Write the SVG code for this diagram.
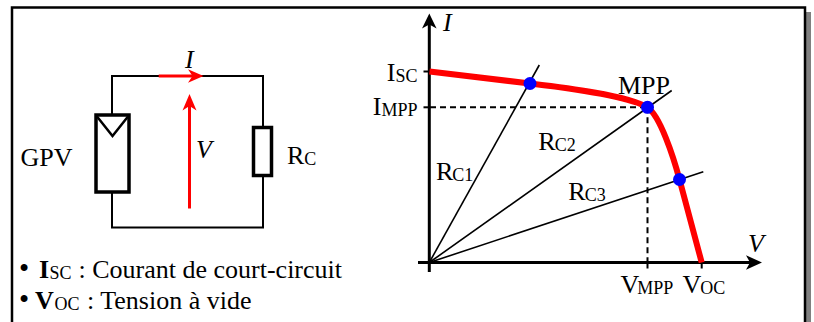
<svg xmlns="http://www.w3.org/2000/svg" width="814" height="322" viewBox="0 0 814 322">
<style>
.t{font-family:"Liberation Serif","Times New Roman",serif;font-size:26px;fill:#000}
.s{font-size:18px}
.bul{font-size:29px}
.it{font-style:italic}
.b{font-weight:bold}
.wire{fill:none;stroke:#000;stroke-width:2}
.thick{fill:#fff;stroke:#000;stroke-width:3.5}
.axis{fill:none;stroke:#000;stroke-width:3}
.load{fill:none;stroke:#000;stroke-width:1.6}
.dash{fill:none;stroke:#000;stroke-width:2;stroke-dasharray:6,4}
.red{fill:none;stroke:#f00;stroke-width:3}
.dot{fill:#00f}
</style>
<rect x="806" y="12" width="5" height="312" fill="#808080"/>
<rect x="12" y="7.5" width="793" height="320" fill="#fff" stroke="#000" stroke-width="2.5"/>

<g id="circuit-wires">
<polyline class="wire" points="112,115 112,76 263,76 263,127"/>
<polyline class="wire" points="112,192 112,227.5 263,227.5 263,176"/>
</g>
<g id="gpv">
<rect class="thick" x="96" y="115" width="33" height="77"/>
<polyline points="97,116.5 112.5,136 128,116.5" fill="none" stroke="#000" stroke-width="2.5"/>
<text class="t" x="20.5" y="166">GPV</text>
</g>
<g id="rc">
<rect class="thick" x="253.5" y="127.5" width="18" height="48"/>
<text class="t" x="287" y="163.5">R<tspan class="s" dy="1">C</tspan></text>
</g>
<g id="current-arrow">
<line class="red" x1="158.7" y1="76" x2="194" y2="76"/>
<path d="M188,69.3 L203.5,76 L188,82.7 L192.5,76 Z" fill="#f00"/>
<text class="t it" x="185" y="68">I</text>
</g>
<g id="voltage-arrow">
<line class="red" x1="189.5" y1="208.5" x2="189.5" y2="104"/>
<path d="M182.5,110.5 L189.5,94 L196.5,110.5 L189.5,106 Z" fill="#f00"/>
<text class="t it" x="196" y="158">V</text>
</g>

<g id="legend">
<text class="t" y="278"><tspan class="bul" x="19">•</tspan><tspan class="b" x="39">I</tspan><tspan class="s" x="49.5" dy="1">SC</tspan><tspan x="78.5" dy="-1">: Courant de court-circuit</tspan></text>
<text class="t" y="309"><tspan class="bul" x="19">•</tspan><tspan class="b" x="35">V</tspan><tspan class="s" x="54.5" dy="1">OC</tspan><tspan x="87" dy="-1">: Tension à vide</tspan></text>
</g>

<g id="axes">
<line class="axis" x1="429.3" y1="272" x2="429.3" y2="24"/>
<path d="M422,28.5 L429.3,13.5 L436.6,28.5 L429.3,24.5 Z" fill="#000"/>
<line class="axis" x1="418" y1="262.5" x2="751" y2="262.5"/>
<path d="M746,255.2 L762,262.5 L746,269.8 L750,262.5 Z" fill="#000"/>
<text class="t it" x="443" y="31">I</text>
<text class="t it" x="748" y="252">V</text>
<line x1="423.5" y1="71.5" x2="429.3" y2="71.5" stroke="#000" stroke-width="2"/>
<line x1="423.5" y1="107.3" x2="429.3" y2="107.3" stroke="#000" stroke-width="2"/>
<line x1="647.5" y1="262.5" x2="647.5" y2="268.5" stroke="#000" stroke-width="2"/>
<line x1="701.7" y1="262.5" x2="701.7" y2="268.5" stroke="#000" stroke-width="2"/>
<text class="t" x="417.5" y="81" text-anchor="end">I<tspan class="s" dy="1">SC</tspan></text>
<text class="t" x="417.5" y="115" text-anchor="end">I<tspan class="s" dy="1">MPP</tspan></text>
<text class="t" x="620.5" y="293">V<tspan class="s" dx="-2" dy="1">MPP</tspan></text>
<text class="t" x="682.5" y="293">V<tspan class="s" dx="-1" dy="1">OC</tspan></text>
</g>

<g id="connectors">
<line class="dash" x1="430" y1="107.3" x2="647.5" y2="107.3"/>
<line class="dash" x1="647.5" y1="107.3" x2="647.5" y2="262"/>
<line class="load" x1="429.3" y1="262.5" x2="539.3" y2="65"/>
<line class="load" x1="429.3" y1="262.5" x2="671.7" y2="90.5"/>
<line class="load" x1="429.3" y1="262.5" x2="703.3" y2="171.7"/>
</g>

<g id="iv-curve">
<path d="M429.5,71.5 L530,83.5 C560,87.1 628,95 647.5,107.5 C660,115.5 673.5,157 679.5,179.5 L701.7,262.5" fill="none" stroke="#f00" stroke-width="6"/>
</g>

<g id="points">
<circle class="dot" cx="530" cy="83.5" r="6.5"/>
<circle class="dot" cx="647.5" cy="107.3" r="6.5"/>
<circle class="dot" cx="679.5" cy="179.5" r="6.5"/>
</g>

<g id="labels">
<text class="t" x="618" y="93.5">MPP</text>
<text class="t" x="436" y="179.5">R<tspan class="s" dx="-1" dy="1">C1</tspan></text>
<text class="t" x="538.3" y="150">R<tspan class="s" dx="-1" dy="1">C2</tspan></text>
<text class="t" x="568.3" y="199.5">R<tspan class="s" dx="-1" dy="1">C3</tspan></text>
</g>
</svg>
